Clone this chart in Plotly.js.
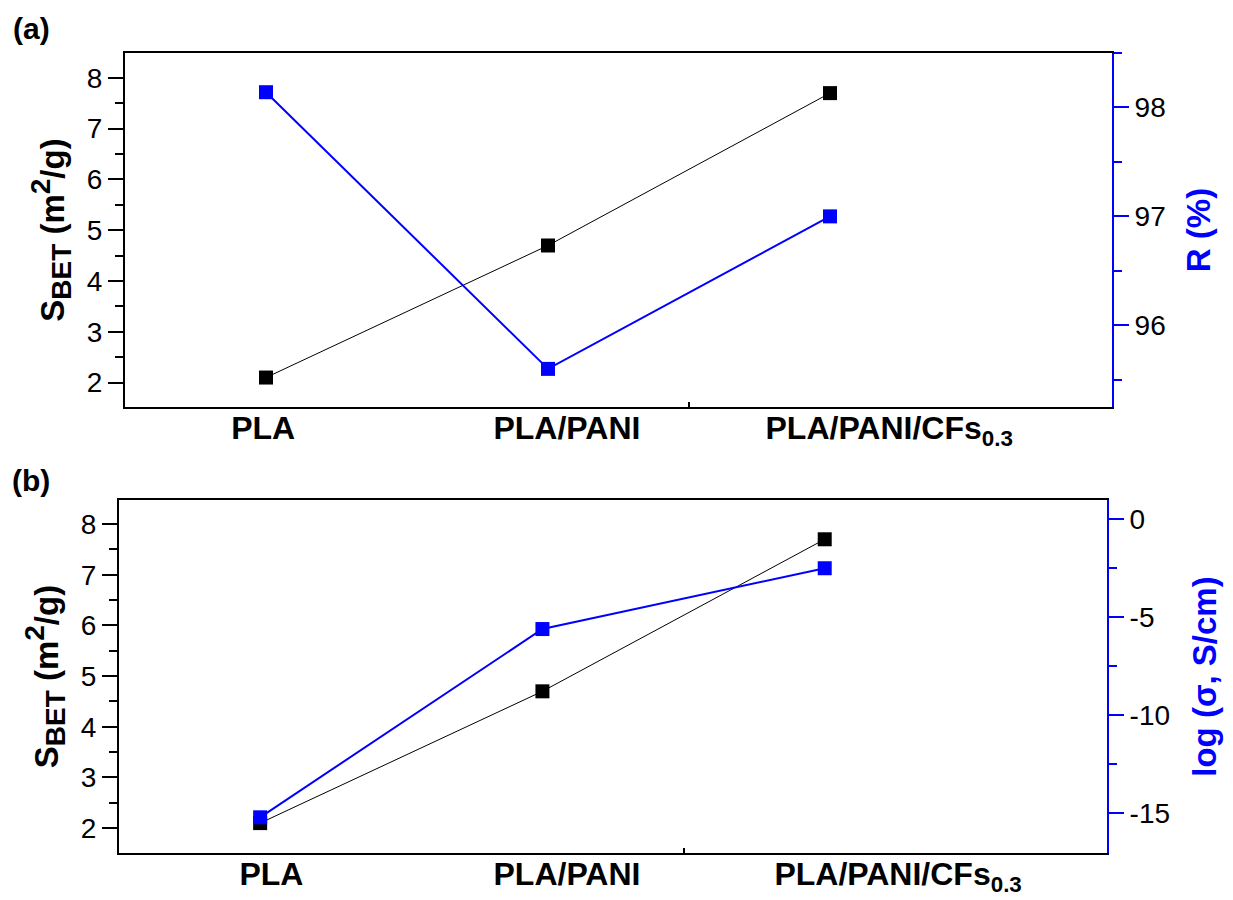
<!DOCTYPE html>
<html>
<head>
<meta charset="utf-8">
<script src="https://cdn.plot.ly/plotly-3.0.1.min.js"></script>
<style>html,body{margin:0;padding:0;background:#fff;}#chart{width:1233px;height:900px;}</style>
</head>
<body>
<div id="chart"></div>
<script>
// ---- data ----
const samples = [1, 2, 3];
const sampleLabels = ["PLA", "PLA/PANI", "PLA/PANI/CFs<sub>0.3</sub>"];
const sBET = [2.1, 4.7, 7.7];            // m2/g
const rejection = [98.14, 95.6, 97.0];   // R (%)
const logSigma = [-15.2, -5.6, -2.5];    // log(sigma, S/cm)
const leftTicks = [2, 3, 4, 5, 6, 7, 8];
const rTicks = [96, 97, 98];
const sigmaTicks = [-15, -10, -5, 0];
const sigmaTickText = ["-15", "-10", "-5", "0"];

const FONT = "Liberation Sans, Arial, sans-serif";
const BLUE = "#0000ff";

const traces = [
  {x: samples, y: sBET, xaxis: "x", yaxis: "y", mode: "lines+markers",
   line: {color: "black", width: 1}, marker: {symbol: "square", size: 14, color: "black"}},
  {x: samples, y: rejection, xaxis: "x", yaxis: "y2", mode: "lines+markers",
   line: {color: BLUE, width: 2}, marker: {symbol: "square", size: 14, color: BLUE}},
  {x: samples, y: sBET, xaxis: "x2", yaxis: "y3", mode: "lines+markers",
   line: {color: "black", width: 1}, marker: {symbol: "square", size: 14, color: "black"}},
  {x: samples, y: logSigma, xaxis: "x2", yaxis: "y4", mode: "lines+markers",
   line: {color: BLUE, width: 2}, marker: {symbol: "square", size: 14, color: BLUE}}
];

function xAxis(domain, anchor, tickpos) {
  return {
    domain: domain, anchor: anchor, range: [0.5, 4.0],
    tickmode: "array", tickvals: tickpos, ticktext: sampleLabels,
    ticks: "", showline: true, linecolor: "black", linewidth: 2, mirror: true,
    showgrid: false, zeroline: false, ticklabelstandoff: -8,
    tickfont: {family: FONT, size: 32, color: "black", weight: "bold"},
    minor: {tickmode: "array", tickvals: [2.5], ticks: "inside", ticklen: 5, tickwidth: 2, tickcolor: "black", showgrid: false}
  };
}
function leftAxis(domain, anchor, range) {
  return {
    domain: domain, anchor: anchor, range: range,
    tickmode: "array", tickvals: leftTicks,
    ticks: "outside", ticklen: 15, tickwidth: 2, tickcolor: "black",
    minor: {dtick: 0.5, ticks: "outside", ticklen: 8, tickwidth: 2, tickcolor: "black", showgrid: false},
    showline: true, linecolor: "black", linewidth: 2,
    showgrid: false, zeroline: false,
    tickfont: {family: FONT, size: 28, color: "black"},
    title: {text: "S<sub><span style=\"font-size:28px\">BET</span></sub> (m<sup><span style=\"font-size:28px\">2</span></sup>/g)", standoff: 12,
            font: {family: FONT, size: 33, color: "black", weight: "bold"}}
  };
}
function rightAxis(overlay, anchor, range, tv, tt, minorStep, titleText, standoff) {
  return {
    overlaying: overlay, anchor: anchor, side: "right", range: range,
    tickmode: "array", tickvals: tv, ticktext: tt,
    ticks: "outside", ticklen: 15, tickwidth: 2, tickcolor: BLUE,
    minor: {dtick: minorStep, ticks: "outside", ticklen: 8, tickwidth: 2, tickcolor: BLUE, showgrid: false},
    showline: true, linecolor: BLUE, linewidth: 2,
    showgrid: false, zeroline: false,
    tickfont: {family: FONT, size: 28, color: "black"},
    title: {text: titleText, standoff: standoff,
            font: {family: FONT, size: 33, color: BLUE, weight: "bold"}}
  };
}

const layout = {
  width: 1233, height: 900,
  margin: {l: 119, r: 121, t: 53, b: 47},
  paper_bgcolor: "white", plot_bgcolor: "white",
  showlegend: false,
  xaxis: xAxis([0.00604, 1], "y", [0.99, 2.067, 3.21]),
  yaxis: leftAxis([0.5575, 1], "x", [1.52, 8.49]),
  yaxis2: rightAxis("y", "x", [95.25, 98.5], rTicks, rTicks.map(String), 0.5, "R (%)", 22),
  xaxis2: xAxis([0, 0.99497], "y3", [1.04, 2.087, 3.26]),
  yaxis3: leftAxis([0, 0.44125], "x2", [1.51, 8.475]),
  yaxis4: rightAxis("y3", "x2", [-17.02, 0.98], sigmaTicks, sigmaTickText, 2.5, "log (σ, S/cm)", 24),
  annotations: [
    {text: "(a)", xref: "paper", yref: "paper", x: -0.0886, y: 1.03, xanchor: "center", yanchor: "middle",
     showarrow: false, font: {family: FONT, size: 30, color: "black", weight: "bold"}},
    {text: "(b)", xref: "paper", yref: "paper", x: -0.0886, y: 0.465, xanchor: "center", yanchor: "middle",
     showarrow: false, font: {family: FONT, size: 30, color: "black", weight: "bold"}}
  ]
};

Plotly.newPlot("chart", traces, layout, {staticPlot: true, displayModeBar: false});
</script>
</body>
</html>
